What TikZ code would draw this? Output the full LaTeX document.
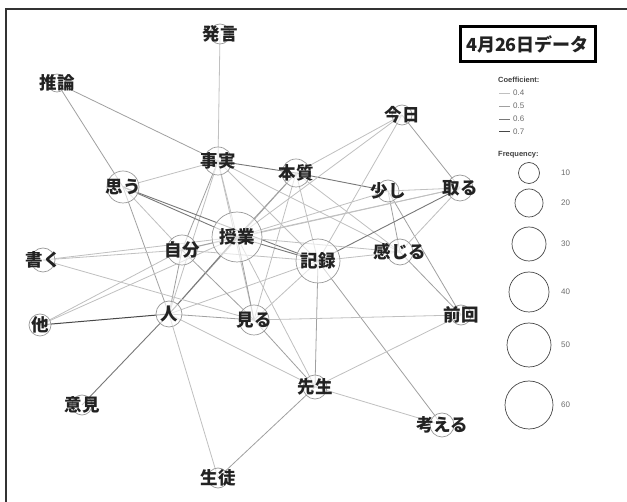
\documentclass[tikz,border=0pt]{standalone}
\usepackage{fontspec}
\setmainfont{Liberation Sans}
\newfontfamily\jp{Noto Sans CJK JP}
\pgfdeclarelayer{paper}
\pgfdeclarelayer{bg}
\pgfsetlayers{paper,bg,main}
\definecolor{c4}{HTML}{C0C0C0}
\definecolor{c5}{HTML}{A0A0A0}
\definecolor{c6}{HTML}{787878}
\definecolor{c7}{HTML}{484848}
\definecolor{ink}{HTML}{222222}
\begin{document}
\begin{tikzpicture}[x=1pt,y=-1pt,
  nd/.style={circle, draw=gray!80, line width=0.7pt, fill=white, fill opacity=0.6, text opacity=1, inner sep=0pt, minimum size=#1},
  lbl/.style={font=\jp\bfseries\fontsize{17.5}{17.5}\selectfont, text=ink, inner sep=0pt},
  ed4/.style={draw=c4, line width=0.8pt},
  ed5/.style={draw=c5, line width=0.8pt},
  ed6/.style={draw=c6, line width=0.9pt},
  ed7/.style={draw=c7, line width=1pt},
  lg/.style={circle, draw=c7, line width=0.7pt, inner sep=0pt, minimum size=#1},
  sm/.style={font=\fontsize{8}{9}\selectfont, text=gray!85!black, inner sep=0pt, anchor=west}
]
\useasboundingbox (0,0) rectangle (627,502);
\begin{pgfonlayer}{paper}
\fill[white] (0,0) rectangle (627,502);
\end{pgfonlayer}
% frame
\draw[line width=2pt, draw=black!80] (6,502) -- (6,9) -- (627,9);

% nodes
\node[nd=20] (hatsugen) at (220,34) {};
\node[nd=18] (suiron) at (57,83) {};
\node[nd=28] (jijitsu) at (218,161) {};
\node[nd=32] (omou) at (123,187) {};
\node[nd=28] (honshitsu) at (296,173) {};
\node[nd=20] (kyou) at (402,115) {};
\node[nd=22] (sukoshi) at (388,191) {};
\node[nd=26] (toru) at (460,188) {};
\node[nd=50] (jugyou) at (237,237) {};
\node[nd=30] (jibun) at (182,250) {};
\node[nd=44] (kiroku) at (318,261) {};
\node[nd=26] (kanjiru) at (400,252) {};
\node[nd=24] (kaku) at (43,260) {};
\node[nd=22] (hoka) at (40,325) {};
\node[nd=26] (hito) at (169,314) {};
\node[nd=30] (miru) at (254,320) {};
\node[nd=20] (zenkai) at (461,315) {};
\node[nd=24] (sensei) at (315,387) {};
\node[nd=20] (iken) at (82,405) {};
\node[nd=24] (kangaeru) at (442,425) {};
\node[nd=20] (seito) at (218,478) {};

% labels
\node[lbl] (l-hatsugen) at (hatsugen) {発言};
\node[lbl] (l-suiron) at (suiron) {推論};
\node[lbl] (l-jijitsu) at (jijitsu) {事実};
\node[lbl] (l-omou) at (omou) {思う};
\node[lbl] (l-honshitsu) at (honshitsu) {本質};
\node[lbl] (l-kyou) at (kyou) {今日};
\node[lbl] (l-sukoshi) at (sukoshi) {少し};
\node[lbl] (l-toru) at (toru) {取る};
\node[lbl] (l-jugyou) at (jugyou) {授業};
\node[lbl] (l-jibun) at (jibun) {自分};
\node[lbl] (l-kiroku) at (kiroku) {記録};
\node[lbl] (l-kanjiru) at (kanjiru) {感じる};
\node[lbl] (l-kaku) at (kaku) {書く};
\node[lbl] (l-hoka) at (hoka) {他};
\node[lbl] (l-hito) at (hito) {人};
\node[lbl] (l-miru) at (miru) {見る};
\node[lbl] (l-zenkai) at (zenkai) {前回};
\node[lbl] (l-sensei) at (sensei) {先生};
\node[lbl] (l-iken) at (iken) {意見};
\node[lbl] (l-kangaeru) at (kangaeru) {考える};
\node[lbl] (l-seito) at (seito) {生徒};

% edges
\begin{pgfonlayer}{bg}
\draw[ed4] (hatsugen.center) -- (jijitsu.center);
\draw[ed5] (suiron.center) -- (jijitsu.center);
\draw[ed5] (suiron.center) -- (omou.center);
\draw[ed4] (jijitsu.center) -- (omou.center);
\draw[ed6] (jijitsu.center) -- (honshitsu.center);
\draw[ed4] (jijitsu.center) -- (jugyou.center);
\draw[ed4] (jijitsu.center) -- (miru.center);
\draw[ed5] (jijitsu.center) -- (jibun.center);
\draw[ed4] (jijitsu.center) -- (hito.center);
\draw[ed4] (jijitsu.center) -- (kiroku.center);
\draw[ed4] (jijitsu.center) -- (kanjiru.center);
\draw[ed6] (omou.center) -- (jugyou.center);
\draw[ed6] (omou.center) -- (kiroku.center);
\draw[ed4] (omou.center) -- (jibun.center);
\draw[ed5] (omou.center) -- (hito.center);
\draw[ed6] (honshitsu.center) -- (sukoshi.center);
\draw[ed4] (honshitsu.center) -- (kyou.center);
\draw[ed5] (honshitsu.center) -- (jugyou.center);
\draw[ed4] (honshitsu.center) -- (kiroku.center);
\draw[ed4] (honshitsu.center) -- (kanjiru.center);
\draw[ed4] (honshitsu.center) -- (miru.center);
\draw[ed5] (honshitsu.center) -- (hito.center);
\draw[ed4] (kyou.center) -- (jugyou.center);
\draw[ed4] (kyou.center) -- (kiroku.center);
\draw[ed5] (kyou.center) -- (toru.center);
\draw[ed4] (sukoshi.center) -- (toru.center);
\draw[ed5] (sukoshi.center) -- (kanjiru.center);
\draw[ed5] (sukoshi.center) -- (zenkai.center);
\draw[ed4] (sukoshi.center) -- (jugyou.center);
\draw[ed6] (toru.center) -- (kiroku.center);
\draw[ed4] (toru.center) -- (jugyou.center);
\draw[ed4] (toru.center) -- (jibun.center);
\draw[ed4] (toru.center) -- (kanjiru.center);
\draw[ed4] (kanjiru.center) -- (kiroku.center);
\draw[ed4] (kanjiru.center) -- (jugyou.center);
\draw[ed5] (kanjiru.center) -- (zenkai.center);
\draw[ed6] (kiroku.center) -- (jugyou.center);
\draw[ed5] (kiroku.center) -- (sensei.center);
\draw[ed5] (kiroku.center) -- (kangaeru.center);
\draw[ed4] (kiroku.center) -- (miru.center);
\draw[ed4] (kiroku.center) -- (hito.center);
\draw[ed4] (kiroku.center) -- (jibun.center);
\draw[ed5] (jugyou.center) -- (jibun.center);
\draw[ed6] (jugyou.center) -- (hito.center);
\draw[ed5] (jugyou.center) -- (miru.center);
\draw[ed4] (jugyou.center) -- (sensei.center);
\draw[ed4] (jugyou.center) -- (kaku.center);
\draw[ed4] (jugyou.center) -- (hoka.center);
\draw[ed4] (jibun.center) -- (kaku.center);
\draw[ed4] (jibun.center) -- (hoka.center);
\draw[ed5] (jibun.center) -- (hito.center);
\draw[ed5] (jibun.center) -- (miru.center);
\draw[ed4] (kaku.center) -- (miru.center);
\draw[ed7] (hoka.center) -- (hito.center);
\draw[ed6] (hito.center) -- (iken.center);
\draw[ed4] (hito.center) -- (seito.center);
\draw[ed4] (hito.center) -- (sensei.center);
\draw[ed5] (hito.center) -- (miru.center);
\draw[ed5] (miru.center) -- (sensei.center);
\draw[ed4] (miru.center) -- (zenkai.center);
\draw[ed5] (sensei.center) -- (seito.center);
\draw[ed4] (sensei.center) -- (kangaeru.center);
\draw[ed4] (sensei.center) -- (zenkai.center);
\end{pgfonlayer}

% legend
\node[draw=black, line width=3pt, minimum width=135pt, minimum height=35pt, inner sep=0pt,
      font=\jp\bfseries\fontsize{18}{18}\selectfont, text=ink] (title) at (527.5,44.5) {4月26日データ};
\node[sm, font=\bfseries\fontsize{7.5}{8}\selectfont, text=black!75] (coef) at (498,80) {Coefficient:};
\coordinate (k4a) at (499,93); \coordinate (k4b) at (510,93);
\coordinate (k5a) at (499,106); \coordinate (k5b) at (510,106);
\coordinate (k6a) at (499,119); \coordinate (k6b) at (510,119);
\coordinate (k7a) at (499,132); \coordinate (k7b) at (510,132);
\draw[ed4] (k4a) -- (k4b); \node[sm] (t4) at (513,93) {0.4};
\draw[ed5] (k5a) -- (k5b); \node[sm] (t5) at (513,106) {0.5};
\draw[ed6] (k6a) -- (k6b); \node[sm] (t6) at (513,119) {0.6};
\draw[ed7] (k7a) -- (k7b); \node[sm] (t7) at (513,132) {0.7};
\node[sm, font=\bfseries\fontsize{7.5}{8}\selectfont, text=black!75] (freq) at (498,155) {Frequency:};
\node[lg=21] (f10) at (529,173) {}; \node[sm] (n10) at (561,173) {10};
\node[lg=28] (f20) at (529,203) {}; \node[sm] (n20) at (561,203) {20};
\node[lg=34] (f30) at (529,244) {}; \node[sm] (n30) at (561,244) {30};
\node[lg=40] (f40) at (529,292) {}; \node[sm] (n40) at (561,292) {40};
\node[lg=44] (f50) at (529,345) {}; \node[sm] (n50) at (561,345) {50};
\node[lg=48] (f60) at (529,405) {}; \node[sm] (n60) at (561,405) {60};
\end{tikzpicture}
\end{document}
